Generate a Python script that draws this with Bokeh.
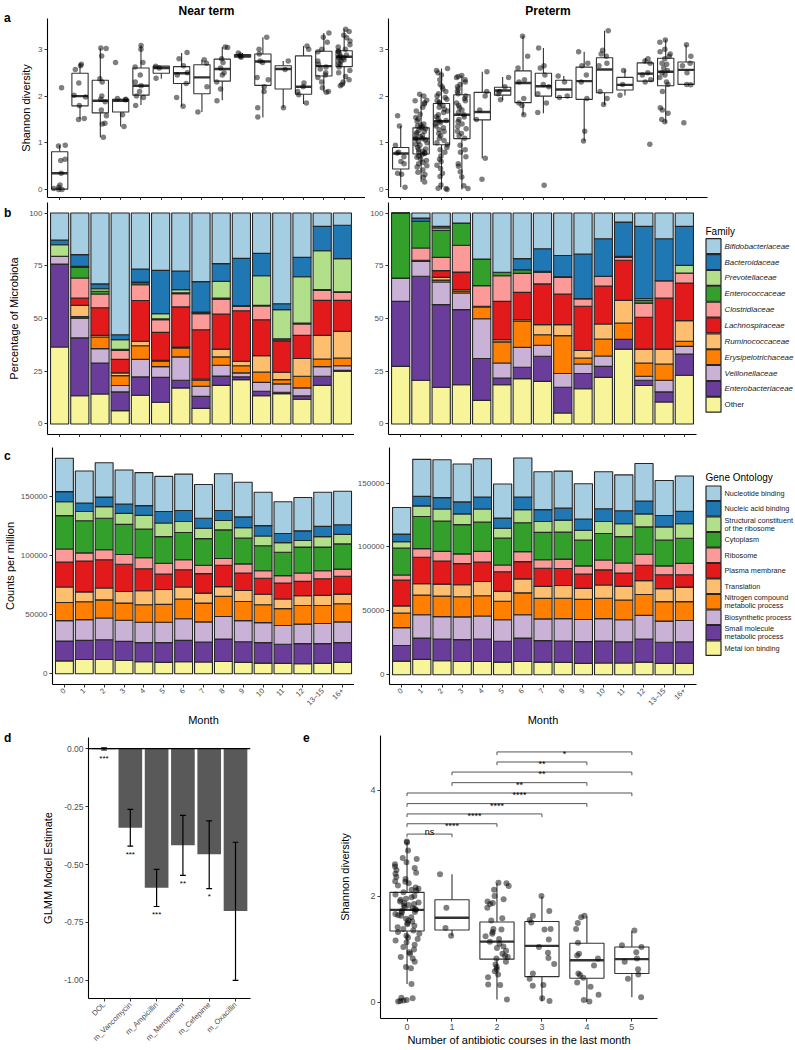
import math
import numpy as np
from bokeh.plotting import figure
from bokeh.models import (ColumnDataSource, Range1d, FixedTicker, NumeralTickFormatter,
                          Span, Title, Div, CustomLabelingPolicy)
from bokeh.layouts import row, column
from bokeh.transform import jitter, dodge
from bokeh.core.properties import value
from bokeh.embed import file_html
from bokeh.resources import INLINE

FONT = "Liberation Sans"
BOXC = "#333333"

# ------------------------------------------------------------------ data
months = ["0", "1", "2", "3", "4", "5", "6", "7", "8", "9", "10", "11", "12", "13\u201315", "16+"]

# panel a: Shannon diversity boxplots (lower whisker, q1, median, q3, upper whisker)
nt_lo = [0.00, 1.51, 1.12, 1.35, 1.81, 2.37, 1.78, 1.66, 1.91, 2.82, 1.54, 1.75, 1.83, 2.08, 2.22]
nt_q1 = [0.01, 1.79, 1.64, 1.66, 2.02, 2.49, 2.27, 2.05, 2.32, 2.83, 2.23, 2.15, 2.04, 2.43, 2.63]
nt_med = [0.35, 2.00, 1.90, 1.90, 2.22, 2.60, 2.49, 2.40, 2.58, 2.86, 2.74, 2.58, 2.20, 2.64, 2.84]
nt_q3 = [0.81, 2.49, 2.34, 1.93, 2.60, 2.64, 2.63, 2.67, 2.79, 2.89, 2.90, 2.65, 2.86, 2.96, 2.97]
nt_hi = [0.95, 2.69, 3.02, 1.95, 3.08, 2.64, 2.92, 2.78, 3.05, 2.92, 3.26, 2.75, 3.07, 3.35, 3.43]
nt_points = [
    [0.95, 0.93, 0.65, 0.62, 0.35, 0.10, 0.05, 0.02, 0.00, 0.00, 2.18],
    [2.68, 2.65, 2.57, 2.28, 2.02, 1.98, 1.80, 1.52, 1.50],
    [3.03, 3.02, 2.86, 2.37, 2.30, 2.00, 1.93, 1.88, 1.70, 1.58, 1.42, 1.40, 1.12],
    [2.72, 1.95, 1.93, 1.92, 1.60, 1.35],
    [3.08, 3.00, 2.72, 2.62, 2.45, 2.30, 2.22, 2.10, 2.00, 1.97, 1.80],
    [2.64, 2.60, 2.38],
    [2.93, 2.80, 2.65, 2.50, 2.45, 2.27, 1.97, 1.78],
    [2.78, 2.70, 2.20, 1.66],
    [3.05, 3.04, 2.80, 2.72, 2.60, 2.50, 2.45, 2.30, 2.15, 1.90],
    [2.92, 2.88, 2.85, 2.83],
    [3.26, 3.00, 2.90, 2.75, 2.72, 2.40, 2.35, 2.20, 2.10, 1.75, 1.55],
    [2.75, 2.57, 1.75],
    [3.07, 3.00, 2.28, 2.20, 2.10, 2.03, 1.85],
    [3.35, 3.26, 3.15, 3.00, 2.95, 2.75, 2.68, 2.62, 2.58, 2.50, 2.45, 2.40, 2.30, 2.18, 2.10, 2.08],
    [3.43, 3.38, 3.30, 3.25, 3.18, 3.10, 3.05, 3.00, 2.97, 2.95, 2.90, 2.88, 2.85, 2.83, 2.82,
     2.80, 2.78, 2.75, 2.70, 2.68, 2.62, 2.55, 2.50, 2.42, 2.35, 2.30, 2.25, 2.22],
]
pt_lo = [0.05, 0.16, 0.00, 0.00, 0.67, 1.91, 1.59, 1.63, 1.96, 1.04, 1.81, 2.01, 2.30, 1.43, 2.25]
pt_q1 = [0.44, 0.76, 0.96, 1.09, 1.49, 2.02, 1.86, 2.00, 1.97, 1.93, 2.07, 2.13, 2.32, 2.22, 2.25]
pt_med = [0.77, 1.09, 1.46, 1.60, 1.66, 2.12, 2.28, 2.21, 2.14, 2.32, 2.57, 2.24, 2.48, 2.52, 2.56]
pt_q3 = [0.90, 1.32, 1.84, 2.03, 2.08, 2.19, 2.54, 2.49, 2.34, 2.62, 2.82, 2.40, 2.71, 2.81, 2.73]
pt_hi = [1.36, 2.04, 2.59, 2.44, 2.52, 2.41, 3.29, 3.03, 2.43, 2.95, 3.40, 2.57, 2.81, 3.21, 3.10]
pt_points = [
    [1.58, 1.36, 0.95, 0.80, 0.78, 0.70, 0.60, 0.55, 0.35, 0.33, 0.05],
    [2.04, 2.00, 1.91, 1.90, 1.86, 1.83, 1.76, 1.68, 1.61, 1.54, 1.51, 1.46, 1.40, 1.38, 1.36,
     1.34, 1.32, 1.30, 1.27, 1.24, 1.22, 1.19, 1.16, 1.13, 1.10, 1.09, 1.08, 1.06, 1.03, 1.00,
     0.97, 0.95, 0.90, 0.87, 0.85, 0.82, 0.80, 0.79, 0.77, 0.75, 0.72, 0.69, 0.65, 0.62, 0.58,
     0.55, 0.51, 0.48, 0.42, 0.37, 0.32, 0.26, 0.16],
    [2.59, 2.55, 2.50, 2.45, 2.35, 2.25, 2.20, 2.15, 2.10, 2.05, 2.00, 1.97, 1.93, 1.90, 1.87,
     1.84, 1.80, 1.76, 1.72, 1.68, 1.65, 1.60, 1.56, 1.52, 1.48, 1.46, 1.43, 1.40, 1.36, 1.32,
     1.28, 1.24, 1.20, 1.15, 1.10, 1.05, 1.00, 0.96, 0.90, 0.85, 0.80, 0.72, 0.65, 0.60, 0.52,
     0.45, 0.35, 0.28, 0.10, 0.03, 0.02, 0.00],
    [2.44, 2.42, 2.40, 2.35, 2.30, 2.25, 2.20, 2.15, 2.10, 2.05, 2.00, 1.95, 1.90, 1.85, 1.80,
     1.75, 1.70, 1.65, 1.60, 1.55, 1.50, 1.45, 1.40, 1.35, 1.30, 1.25, 1.20, 1.15, 1.10, 0.95,
     0.85, 0.80, 0.70, 0.55, 0.50, 0.38, 0.27, 0.08, 0.02],
    [2.52, 2.10, 2.00, 1.70, 1.50, 0.67, 0.22],
    [2.40, 2.20, 2.10, 2.05, 1.92],
    [3.28, 2.85, 2.60, 2.35, 2.30, 1.95, 1.85, 1.80, 1.60],
    [3.03, 2.65, 2.60, 2.45, 2.25, 2.20, 2.05, 1.85, 1.65, 0.09],
    [2.43, 2.30, 2.00, 1.97],
    [2.95, 2.70, 2.65, 2.45, 2.30, 1.95, 1.25, 1.04],
    [3.40, 2.98, 2.90, 2.85, 2.70, 2.65, 2.10, 1.95, 1.82],
    [2.55, 2.25, 2.02],
    [2.80, 2.75, 2.70, 2.50, 2.45, 2.35, 2.30, 0.97],
    [3.20, 3.15, 3.00, 2.95, 2.90, 2.85, 2.80, 2.70, 2.68, 2.60, 2.55, 2.50, 2.45, 2.40, 2.30,
     2.25, 2.10, 1.75, 1.70, 1.63, 1.50, 1.45],
    [3.10, 2.85, 2.70, 2.65, 2.50, 2.25, 2.24, 1.43],
]

# panel b: families, listed bottom -> top of the stack
families = ["Other", "Enterobacteriaceae", "Veillonellaceae", "Erysipelotrichaceae",
            "Ruminococcaceae", "Lachnospiraceae", "Clostridiaceae", "Enterococcaceae",
            "Prevotellaceae", "Bacteroidaceae", "Bifidobacteriaceae"]
palette = ["#F8F49A", "#6A3D9A", "#CAB2D6", "#FF7F00", "#FDBF6F", "#E31A1C",
           "#FB9A99", "#33A02C", "#B2DF8A", "#1F78B4", "#A6CEE3"]
# cumulative % at the top of each family (first 10 families; Bifidobacteriaceae fills to 100), one row per month
near_family_cum = [
    [36.5, 75.8, 79.5, 79.5, 79.5, 79.5, 79.5, 79.5, 85.0, 87.2],
    [13.4, 40.8, 50.2, 50.9, 56.2, 59.7, 69.2, 74.2, 74.7, 80.3],
    [14.2, 28.9, 35.7, 41.2, 42.0, 55.1, 61.6, 62.9, 64.1, 66.4],
    [6.3, 15.2, 18.2, 22.9, 24.2, 30.6, 34.9, 35.4, 40.0, 42.3],
    [13.6, 22.3, 30.6, 37.1, 39.2, 58.5, 66.0, 67.0, 67.3, 73.5],
    [10.3, 22.1, 27.2, 29.7, 30.2, 43.4, 49.4, 49.8, 52.3, 72.8],
    [17.1, 20.7, 31.8, 36.0, 36.5, 55.5, 61.8, 62.2, 63.7, 72.5],
    [7.4, 13.1, 17.9, 20.7, 21.3, 44.7, 52.3, 52.9, 53.1, 67.5],
    [18.3, 22.7, 27.8, 31.8, 35.5, 52.1, 59.2, 59.7, 67.6, 76.0],
    [21.0, 22.3, 24.2, 27.6, 29.7, 53.7, 55.8, 56.1, 56.1, 78.5],
    [13.4, 15.5, 19.7, 24.6, 32.4, 49.4, 55.9, 56.2, 70.3, 80.9],
    [14.4, 15.0, 19.0, 21.0, 24.5, 39.2, 39.8, 40.4, 54.2, 57.0],
    [11.7, 13.3, 17.1, 22.6, 31.0, 42.0, 47.4, 47.9, 69.8, 79.0],
    [18.3, 22.6, 27.2, 30.8, 42.0, 58.6, 63.3, 63.7, 82.1, 93.7],
    [25.0, 25.4, 27.6, 31.3, 43.9, 58.6, 62.4, 62.7, 78.4, 94.2],
]
pre_family_cum = [
    [27.3, 58.1, 69.2, 69.2, 69.2, 69.2, 69.2, 100.0, 100.0, 100.0],
    [20.7, 70.0, 77.1, 77.6, 77.6, 77.6, 83.4, 96.1, 96.1, 97.6],
    [17.4, 56.6, 67.3, 68.2, 69.5, 72.7, 79.0, 91.8, 92.9, 93.7],
    [18.6, 54.2, 62.1, 62.9, 63.7, 72.0, 84.7, 95.3, 95.3, 95.3],
    [11.2, 31.0, 49.9, 55.5, 55.8, 55.8, 65.6, 78.2, 78.2, 78.2],
    [18.6, 21.8, 28.9, 38.9, 40.0, 58.1, 70.3, 71.9, 71.9, 71.9],
    [21.5, 26.9, 36.3, 48.7, 49.4, 62.4, 71.4, 73.1, 73.1, 78.4],
    [20.2, 32.1, 37.3, 42.3, 47.1, 66.4, 72.0, 72.4, 72.4, 83.1],
    [5.2, 17.4, 23.9, 41.9, 47.1, 61.6, 69.5, 69.8, 69.8, 79.9],
    [16.7, 23.9, 28.4, 31.3, 34.8, 55.8, 59.4, 59.4, 59.4, 80.6],
    [22.1, 27.3, 32.2, 40.3, 47.4, 65.4, 70.0, 70.0, 70.0, 87.8],
    [35.5, 40.1, 40.1, 47.9, 58.6, 77.6, 79.0, 79.5, 79.5, 95.7],
    [18.2, 20.7, 22.6, 28.9, 35.5, 50.6, 57.3, 58.5, 59.4, 93.7],
    [10.4, 15.2, 20.7, 28.4, 35.5, 59.7, 67.9, 67.9, 67.9, 87.8],
    [23.1, 33.2, 36.8, 39.2, 49.0, 66.8, 71.6, 71.6, 75.2, 93.7],
]

# panel c: gene ontology terms, bottom -> top of the stack
go_terms = ["Metal ion binding", "Small molecule\nmetabolic process", "Biosynthetic process",
            "Nitrogen compound\nmetabolic process", "Translation", "Plasma membrane", "Ribosome",
            "Cytoplasm", "Structural constituent\nof the ribosome", "Nucleic acid binding",
            "Nucleotide binding"]
# cumulative counts per million (thousands) at the top of each term, one row per month
near_go_cum_k = [
    [10.9, 27.6, 44.9, 60.2, 73.3, 94.4, 105.4, 133.6, 145.3, 153.8, 182.0],
    [12.0, 28.2, 45.7, 60.8, 69.2, 95.2, 102.1, 129.2, 137.1, 144.2, 171.3],
    [12.0, 28.7, 47.1, 62.4, 72.5, 96.3, 104.8, 131.4, 141.2, 149.2, 178.2],
    [11.2, 27.4, 45.2, 59.7, 69.5, 92.5, 100.7, 126.2, 135.5, 143.4, 172.1],
    [10.1, 26.3, 43.5, 58.3, 70.1, 88.7, 98.0, 122.3, 133.8, 142.0, 169.9],
    [9.6, 26.3, 43.5, 58.6, 71.2, 84.3, 93.3, 115.8, 127.3, 137.1, 166.7],
    [10.1, 28.2, 46.5, 63.2, 73.3, 87.8, 96.3, 119.3, 128.6, 137.9, 168.6],
    [9.9, 26.8, 43.8, 59.7, 68.1, 84.6, 91.7, 114.1, 122.9, 131.4, 159.8],
    [10.4, 29.3, 48.4, 65.4, 73.6, 91.7, 97.4, 121.5, 129.4, 137.9, 168.9],
    [9.6, 27.1, 44.9, 61.0, 70.3, 85.1, 92.8, 114.7, 123.4, 132.5, 161.7],
    [9.0, 26.3, 43.2, 58.3, 67.1, 80.7, 87.0, 108.1, 116.3, 125.1, 153.3],
    [8.8, 24.9, 40.8, 55.0, 63.2, 76.6, 82.9, 102.6, 110.8, 118.5, 145.3],
    [8.5, 25.5, 41.9, 57.7, 66.0, 78.0, 85.1, 107.0, 112.5, 120.7, 148.9],
    [8.8, 25.5, 42.4, 57.7, 66.2, 80.2, 87.0, 107.0, 115.8, 124.5, 153.3],
    [9.6, 26.3, 43.8, 59.1, 67.3, 82.4, 88.4, 109.7, 117.7, 125.9, 154.1],
]
pre_go_cum_k = [
    [10.7, 22.9, 36.9, 48.3, 53.9, 74.2, 78.1, 99.2, 104.2, 110.1, 130.9],
    [12.0, 28.7, 47.0, 62.3, 71.2, 92.0, 98.7, 123.8, 132.2, 139.6, 168.6],
    [10.9, 28.0, 45.5, 61.5, 70.9, 89.0, 96.6, 120.3, 129.7, 138.6, 168.3],
    [10.4, 27.5, 45.3, 61.0, 70.4, 87.0, 94.6, 117.5, 125.9, 135.3, 165.0],
    [10.4, 28.0, 46.0, 61.8, 73.0, 88.2, 96.6, 119.5, 129.7, 139.1, 169.1],
    [9.9, 26.2, 43.0, 57.5, 65.3, 80.6, 85.9, 107.0, 114.7, 122.6, 149.3],
    [10.4, 28.7, 47.0, 64.1, 75.0, 88.5, 96.4, 119.0, 129.2, 139.1, 169.6],
    [9.9, 26.7, 43.7, 59.8, 69.2, 83.4, 90.0, 111.4, 120.0, 129.2, 158.9],
    [9.7, 26.4, 43.9, 59.9, 69.9, 83.1, 90.5, 111.6, 121.0, 130.4, 159.4],
    [8.9, 25.9, 43.2, 59.0, 67.6, 78.8, 85.2, 105.5, 113.1, 121.8, 149.5],
    [9.2, 26.4, 43.9, 59.9, 70.2, 82.1, 89.8, 110.6, 120.0, 129.9, 158.9],
    [9.2, 25.7, 43.0, 58.5, 69.2, 79.6, 87.5, 108.1, 118.2, 128.4, 156.4],
    [9.9, 28.0, 46.5, 62.8, 73.7, 85.7, 94.3, 115.7, 125.9, 136.0, 165.3],
    [8.9, 25.4, 42.0, 57.2, 67.4, 78.3, 85.2, 105.5, 115.7, 124.6, 152.0],
    [8.9, 25.7, 42.5, 57.2, 68.6, 78.3, 87.2, 106.8, 118.2, 127.9, 155.6],
]

# panel d: GLMM estimates
d_terms = ["DOL", "m_Vancomycin", "m_Ampicillin", "m_Meropenem", "m_Cefepime", "m_Oxacillin"]
d_est = [-0.003, -0.341, -0.600, -0.417, -0.456, -0.700]
d_lower = [-0.006, -0.421, -0.681, -0.547, -0.604, -1.000]
d_upper = [0.003, -0.262, -0.521, -0.288, -0.312, -0.404]
d_sig = ["***", "***", "***", "**", "*", ""]

# panel e: Shannon diversity vs antibiotic courses
e_courses = [0, 1, 2, 3, 4, 5]
e_lo = [0.34, 1.25, 0.05, 0.01, 0.00, 0.09]
e_q1 = [1.34, 1.36, 0.81, 0.48, 0.45, 0.54]
e_med = [1.74, 1.59, 1.14, 1.06, 0.79, 0.81]
e_q3 = [2.07, 1.93, 1.51, 1.52, 1.11, 1.04]
e_hi = [3.01, 2.41, 2.24, 1.99, 1.62, 1.34]
e_points = [
    [3.03, 3.01, 2.86, 2.72, 2.70, 2.64, 2.60, 2.56, 2.53, 2.49, 2.44, 2.42, 2.36, 2.32, 2.28,
     2.27, 2.24, 2.20, 2.16, 2.14, 2.12, 2.10, 2.07, 2.03, 2.00, 1.98, 1.95, 1.93, 1.90, 1.88,
     1.87, 1.85, 1.83, 1.82, 1.79, 1.77, 1.75, 1.74, 1.72, 1.70, 1.69, 1.66, 1.64, 1.63, 1.60,
     1.57, 1.54, 1.52, 1.49, 1.47, 1.44, 1.41, 1.38, 1.35, 1.32, 1.29, 1.25, 1.22, 1.19, 1.16,
     1.13, 1.08, 1.04, 0.99, 0.94, 0.91, 0.85, 0.82, 0.76, 0.66, 0.64, 0.34, 0.08, 0.07, 0.04,
     0.03, 0.02, 0.01],
    [2.41, 1.78, 1.40, 1.25],
    [2.25, 2.24, 2.19, 2.12, 2.00, 1.94, 1.90, 1.87, 1.85, 1.78, 1.58, 1.54, 1.38, 1.37, 1.32,
     1.29, 1.24, 1.19, 1.14, 1.10, 1.05, 1.02, 0.97, 0.91, 0.87, 0.85, 0.82, 0.76, 0.71, 0.66,
     0.62, 0.58, 0.52, 0.47, 0.33, 0.32, 0.05],
    [2.00, 1.72, 1.63, 1.55, 1.50, 1.38, 1.37, 1.18, 1.04, 0.93, 0.83, 0.72, 0.54, 0.44, 0.32,
     0.31, 0.07, 0.02],
    [1.63, 1.60, 1.49, 1.38, 1.12, 0.91, 0.88, 0.82, 0.69, 0.54, 0.51, 0.46, 0.37, 0.29, 0.14,
     0.04, 0.01],
    [1.35, 1.07, 1.04, 0.94, 0.82, 0.76, 0.62, 0.52, 0.44, 0.09],
]
sig_from = [0, 0, 0, 0, 0, 1, 1, 2, 2]
sig_to = [1, 2, 3, 4, 5, 4, 5, 4, 5]
sig_y = [3.17, 3.365, 3.55, 3.745, 3.945, 4.14, 4.34, 4.53, 4.72]
sig_label = ["ns", "****", "****", "****", "****", "**", "**", "**", "*"]

panel_letters = ["a", "b", "c", "d", "e"]


# ------------------------------------------------------------------ helpers
def make_fig(w, h, xr, yr, bl, br, bt, bb):
    p = figure(width=w, height=h, x_range=Range1d(*xr), y_range=Range1d(*yr),
               min_border_left=bl, min_border_right=br, min_border_top=bt,
               min_border_bottom=bb, toolbar_location=None, output_backend="svg")
    p.xgrid.visible = False
    p.ygrid.visible = False
    p.outline_line_color = None
    for ax in p.axis:
        ax.axis_line_color = "black"
        ax.axis_line_width = 1.1
        ax.major_tick_line_color = "#333333"
        ax.major_tick_line_width = 1
        ax.major_tick_in = 0
        ax.major_tick_out = 3
        ax.minor_tick_line_color = None
        ax.major_label_text_font = FONT
        ax.major_label_text_font_size = "8px"
        ax.major_label_text_color = "#4D4D4D"
        ax.major_label_standoff = 2
        ax.axis_label_text_font = FONT
        ax.axis_label_text_font_size = "11px"
        ax.axis_label_text_font_style = "normal"
        ax.axis_label_text_color = "black"
    return p


def hide_x_labels(p):
    p.xaxis.major_label_text_font_size = "0px"
    p.xaxis.major_label_standoff = 0
    p.xaxis.major_label_policy = CustomLabelingPolicy(
        code="for (const i of indices) { indices.unset(i) }\nreturn indices")


def add_title(p, txt, offset):
    p.add_layout(Title(text=txt, align="center", offset=offset, text_font=FONT,
                       text_font_size="12px", text_font_style="bold", standoff=2,
                       text_color="black"), "above")


def letter_div(txt, left, top):
    return Div(text=txt, width=14, height=14,
               styles={"position": "absolute", "left": f"{left}px", "top": f"{top}px",
                       "font-family": FONT, "font-size": "12px", "font-weight": "bold",
                       "line-height": "12px", "color": "black", "margin": "0"})


def draw_boxes(p, xs, lo, q1, med, q3, hi, w):
    src = ColumnDataSource(dict(x=xs, lo=lo, q1=q1, med=med, q3=q3, hi=hi))
    p.segment(x0="x", y0="q3", x1="x", y1="hi", source=src, line_color=BOXC, line_width=1.1)
    p.segment(x0="x", y0="q1", x1="x", y1="lo", source=src, line_color=BOXC, line_width=1.1)
    p.vbar(x="x", width=w, top="q3", bottom="q1", source=src, fill_color="white",
           line_color=BOXC, line_width=1.1)
    p.segment(x0=dodge("x", -w / 2), y0="med", x1=dodge("x", w / 2), y1="med", source=src,
              line_color=BOXC, line_width=2.4)


def draw_points(p, xs, groups, jw, size):
    px, py = [], []
    for xv, vals in zip(xs, groups):
        px += [xv] * len(vals)
        py += list(vals)
    src = ColumnDataSource(dict(x=px, y=py))
    p.scatter(x=jitter("x", width=jw), y="y", source=src, size=size, fill_color="black",
              fill_alpha=0.5, line_color=None)


def draw_stack(p, cum_rows, total=None, scale=1.0):
    cum = np.array(cum_rows, dtype=float) * scale
    n = cum.shape[0]
    if total is not None:
        cum = np.hstack([cum, np.full((n, 1), total)])
    bottoms = np.hstack([np.zeros((n, 1)), cum[:, :-1]])
    xs = list(range(1, n + 1))
    for j in range(cum.shape[1]):
        p.vbar(x=xs, width=0.9, bottom=bottoms[:, j], top=cum[:, j], fill_color=palette[j],
               line_color="#262626", line_width=1.1)


def legend_fig(w, h, bt, bb, title, labels, styles, size, title_y, row0_y, pitch):
    fh = h - bt - bb
    p = figure(width=w, height=h, x_range=Range1d(0, w), y_range=Range1d(0, fh),
               min_border_left=0, min_border_right=0, min_border_top=bt, min_border_bottom=bb,
               toolbar_location=None, output_backend="svg",
               x_axis_location=None, y_axis_location=None)
    p.xgrid.visible = False
    p.ygrid.visible = False
    p.outline_line_color = None
    lab_top = list(reversed(labels))
    col_top = list(reversed(palette))
    sty_top = list(reversed(styles))
    ys = [row0_y - pitch * i for i in range(len(lab_top))]
    src = ColumnDataSource(dict(y=ys, t=lab_top, c=col_top, s=sty_top))
    p.rect(x=15, y="y", width=15, height=15, source=src, fill_color="c",
           line_color="#262626", line_width=1.2)
    p.text(x=26, y="y", text="t", source=src, text_font=value(FONT), text_font_size=size,
           text_font_style="s", text_baseline="middle", text_align="left",
           text_color="#1a1a1a", text_line_height=0.95)
    p.text(x=[7], y=[title_y], text=[title], text_font=value(FONT), text_font_size="10px",
           text_baseline="middle", text_align="left", text_color="black")
    return p


month_ticks = list(range(1, 16))

# ------------------------------------------------------------------ row A (y 0-200)
A_H = 200
aL = make_fig(365, A_H, (0.4, 16.05), (-0.17, 3.66), 47, 0, 17, 3)
aR = make_fig(345, A_H, (0.4, 16.05), (-0.17, 3.66), 23, 3, 17, 3)
add_title(aL, "Near term", 9)
add_title(aR, "Preterm", 22)
for p, lo, q1, md, q3, hi, pts in [(aL, nt_lo, nt_q1, nt_med, nt_q3, nt_hi, nt_points),
                                   (aR, pt_lo, pt_q1, pt_med, pt_q3, pt_hi, pt_points)]:
    draw_boxes(p, month_ticks, lo, q1, md, q3, hi, 0.8)
    draw_points(p, month_ticks, pts, 0.6, 5.5)
    p.xaxis.ticker = FixedTicker(ticks=month_ticks)
    hide_x_labels(p)
    p.yaxis.ticker = FixedTicker(ticks=[0, 1, 2, 3])
aL.yaxis.axis_label = "Shannon diversity"
aL.yaxis.axis_label_standoff = 3

# ------------------------------------------------------------------ row B (y 200-437)
B_H, B_T, B_B = 237, 2, 3
bL = make_fig(354, B_H, (0.4, 15.6), (-5, 105), 47, 0, B_T, B_B)
bR = make_fig(344, B_H, (0.4, 15.6), (-5, 105), 34, 2, B_T, B_B)
draw_stack(bL, near_family_cum, total=100.0)
draw_stack(bR, pre_family_cum, total=100.0)
for p in (bL, bR):
    p.xaxis.ticker = FixedTicker(ticks=month_ticks)
    hide_x_labels(p)
    p.yaxis.ticker = FixedTicker(ticks=[0, 25, 50, 75, 100])
bL.yaxis.axis_label = "Percentage of Microbiota"
bL.yaxis.axis_label_standoff = 6
fam_styles = ["normal"] + ["italic"] * 10
legB = legend_fig(96, B_H, B_T, B_B, "Family", families, fam_styles, "7.9px",
                  203, 188.3, 15.85)

# ------------------------------------------------------------------ row C (y 437-728)
C_H, C_T, C_B = 291, 10, 38
cL = make_fig(354, C_H, (0.4, 15.6), (-9060, 191100), 47, 0, C_T, C_B)
cR = make_fig(344, C_H, (0.4, 15.6), (-7630, 177860), 34, 2, C_T, C_B)
draw_stack(cL, near_go_cum_k, scale=1000.0)
draw_stack(cR, pre_go_cum_k, scale=1000.0)
for p in (cL, cR):
    p.xaxis.ticker = FixedTicker(ticks=month_ticks)
    p.xaxis.major_label_overrides = {i + 1: m for i, m in enumerate(months)}
    p.xaxis.major_label_orientation = math.pi / 4
    p.xaxis.major_label_text_font_size = "7.5px"
    p.xaxis.axis_label = "Month"
    p.xaxis.axis_label_standoff = 0
    p.yaxis.ticker = FixedTicker(ticks=[0, 50000, 100000, 150000])
    p.yaxis.formatter = NumeralTickFormatter(format="0")
cL.yaxis.axis_label = "Counts per million"
cL.yaxis.axis_label_standoff = 2
legC = legend_fig(96, C_H, C_T, C_B, "Gene Ontology", go_terms, ["normal"] * 11, "7.3px",
                  212, 196, 15.87)

# ------------------------------------------------------------------ row D (y 728-1048)
D_H = 320
d = make_fig(300, D_H, (0.41, 6.57), (-1.078, 0.048), 88, 50, 9, 50)
d_x = list(range(1, len(d_terms) + 1))
dsrc = ColumnDataSource(dict(x=d_x, est=d_est, lo=d_lower, hi=d_upper, sig=d_sig,
                             zero=[0.0] * len(d_x)))
d.vbar(x="x", width=0.9, top="zero", bottom="est", source=dsrc, fill_color="#595959",
       line_color=None)
d.add_layout(Span(location=0, dimension="width", line_color="black", line_width=1.1))
d.segment(x0="x", y0="lo", x1="x", y1="hi", source=dsrc, line_color="black", line_width=1.2)
d.segment(x0=dodge("x", -0.11), y0="lo", x1=dodge("x", 0.11), y1="lo", source=dsrc,
          line_color="black", line_width=1.2)
d.segment(x0=dodge("x", -0.11), y0="hi", x1=dodge("x", 0.11), y1="hi", source=dsrc,
          line_color="black", line_width=1.2)
d.text(x="x", y="lo", text="sig", source=dsrc, text_font=value(FONT), text_font_size="8px",
       text_align="center", text_baseline="alphabetic", y_offset=8, text_color="black")
d.xaxis.ticker = FixedTicker(ticks=d_x)
d.xaxis.major_label_overrides = {i + 1: t for i, t in enumerate(d_terms)}
d.xaxis.major_label_orientation = math.pi / 4
d.xaxis.major_label_text_font_size = "7.5px"
d.yaxis.ticker = FixedTicker(ticks=[-1.0, -0.75, -0.5, -0.25, 0.0])
d.yaxis.formatter = NumeralTickFormatter(format="0.00")
d.yaxis.major_label_text_font_size = "8.5px"
d.yaxis.axis_label = "GLMM Model Estimate"
d.yaxis.axis_label_standoff = 7

e = make_fig(494, D_H, (-0.59, 5.57), (-0.31, 5.03), 80, 137, 7, 28)
draw_boxes(e, e_courses, e_lo, e_q1, e_med, e_q3, e_hi, 0.76)
draw_points(e, e_courses, e_points, 0.55, 6)
bx, by = [], []
for a, b, y in zip(sig_from, sig_to, sig_y):
    bx.append([a, a, b, b])
    by.append([y - 0.06, y, y, y - 0.06])
e.multi_line(xs=bx, ys=by, line_color="#555555", line_width=1)
ssrc = ColumnDataSource(dict(x=[(a + b) / 2 for a, b in zip(sig_from, sig_to)], y=sig_y,
                             t=sig_label, off=[-2 if s == "ns" else 2 for s in sig_label]))
e.text(x="x", y="y", text="t", source=ssrc, y_offset="off", text_font=value(FONT),
       text_font_size="9px", text_align="center", text_baseline="alphabetic",
       text_color="black")
e.xaxis.ticker = FixedTicker(ticks=e_courses)
e.yaxis.ticker = FixedTicker(ticks=[0, 2, 4])
for ax in e.axis:
    ax.major_label_text_font_size = "9px"
e.xaxis.axis_label = "Number of antibiotic courses in the last month"
e.xaxis.axis_label_standoff = 1
e.yaxis.axis_label = "Shannon diversity"
e.yaxis.axis_label_standoff = 16

# panel letters (positions in px from the top-left of the page)
letter_pos = [(4, 12), (4, 207), (4, 450), (4, 732), (303, 732)]
letters = [letter_div(t, x, y) for t, (x, y) in zip(panel_letters, letter_pos)]

layout = column(row(aL, aR), row(bL, bR, legB), row(cL, cR, legC),
                row(column(d), column(e)), *letters)
open("out.html", "w").write(file_html(layout, INLINE))
